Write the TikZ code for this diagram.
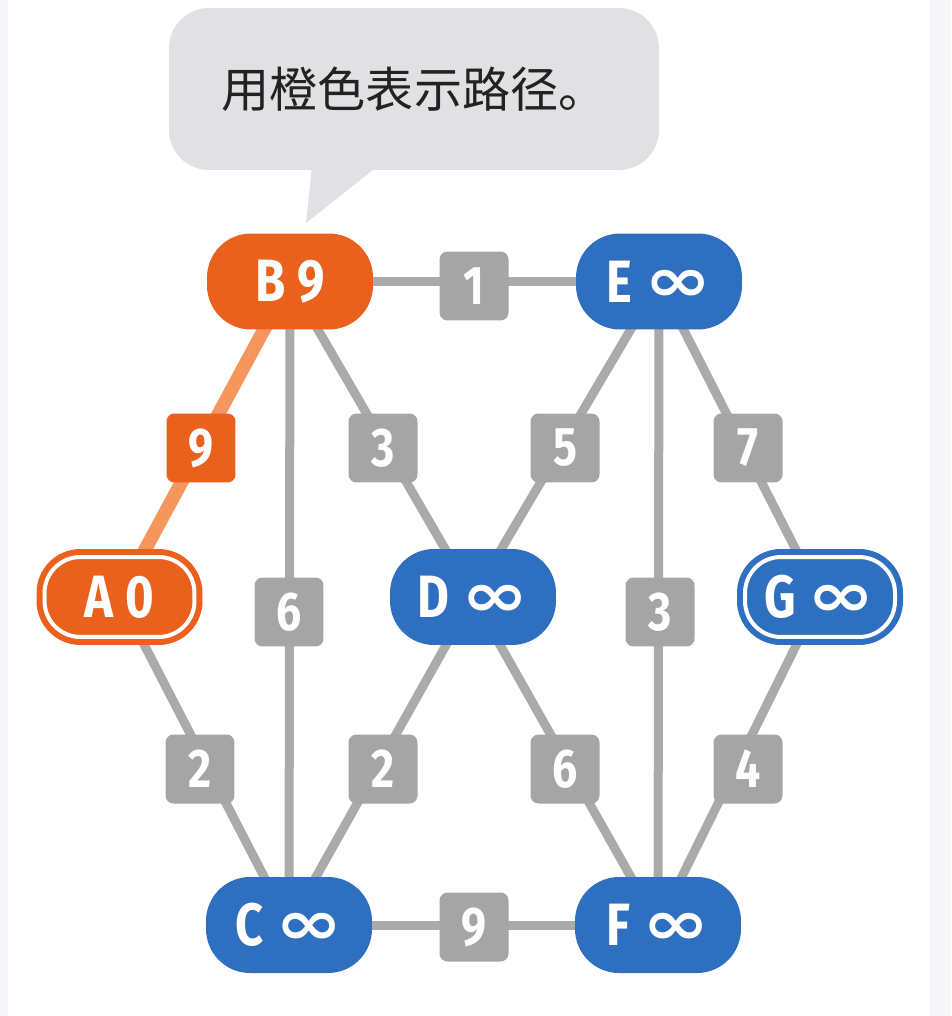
\documentclass[tikz,border=0pt]{standalone}
\usepackage{fontspec}
\newfontfamily\cjk{Noto Sans CJK SC}
\newfontfamily\nodefont{Fira Sans}[FakeStretch=0.82]
\newfontfamily\symfont{DejaVu Sans}
\newcommand{\inft}{{\symfont\fontsize{40}{40}\selectfont\raisebox{0.5pt}{\scalebox{1.15}[0.88]{∞}}}}
\usetikzlibrary{backgrounds}
\definecolor{orangeN}{RGB}{234,97,29}
\definecolor{blueN}{RGB}{47,111,191}
\definecolor{edgeG}{RGB}{170,170,170}
\definecolor{labG}{RGB}{165,165,165}
\definecolor{pathO}{RGB}{245,150,92}
\definecolor{bubbleG}{RGB}{225,225,228}
\definecolor{sideG}{RGB}{246,246,249}
\definecolor{txtD}{RGB}{34,34,34}
\begin{document}
\begin{tikzpicture}[x=0.02cm,y=-0.02cm,
  vtx/.style={rounded corners=0.88cm, minimum width=3.32cm, minimum height=1.92cm,
    inner sep=0pt, text=white, font=\nodefont\bfseries\fontsize{34}{38}\selectfont},
  vorange/.style={vtx, fill=orangeN},
  vblue/.style={vtx, fill=blueN},
  vsrc/.style={rounded corners=0.72cm, minimum width=3.0cm, minimum height=1.60cm,
    double=white, double distance=0.08cm, line width=0.12cm},
  wlab/.style={rounded corners=0.16cm, minimum size=1.38cm, inner sep=0pt,
    fill=labG, text=white, font=\nodefont\bfseries\fontsize{31}{34}\selectfont},
  olab/.style={wlab, fill=orangeN},
  gedge/.style={draw=edgeG, line width=0.18cm},
  pedge/.style={draw=pathO, line width=0.27cm},
  bubble/.style={fill=bubbleG, rounded corners=0.8cm, minimum width=9.8cm,
    minimum height=3.24cm, inner sep=0pt, text=txtD, font=\cjk\fontsize{27.4}{30}\selectfont},
]
\useasboundingbox (0,0) rectangle (951,1016);

% callout
\node[bubble] (call) at (414,89) {用橙色表示路径。};
\coordinate (tip) at (306,223);
\fill[bubbleG] (312,166) -- (tip) -- (378,166) -- cycle;

% vertices
\node[vorange, vsrc, draw=orangeN] (A) at (119.5,597) {A 0};
\node[vorange] (B) at (290,281.5) {B 9};
\node[vblue] (C) at (289,925) {C \inft};
\node[vblue] (D) at (473,597) {D \inft};
\node[vblue] (E) at (659,281.5) {E \inft};
\node[vblue] (F) at (658,925) {F \inft};
\node[vblue, vsrc, draw=blueN] (G) at (820,597) {G \inft};

% weights
\node[wlab] (lBE) at (474,286) {1};
\node[olab] (lAB) at (201,448) {9};
\node[wlab] (lBD) at (383,448) {3};
\node[wlab] (lED) at (565,448) {5};
\node[wlab] (lEG) at (748,448) {7};
\node[wlab] (lBC) at (289,612) {6};
\node[wlab] (lEF) at (660,612) {3};
\node[wlab] (lAC) at (200,769) {2};
\node[wlab] (lDC) at (383,769) {2};
\node[wlab] (lDF) at (565,769) {6};
\node[wlab] (lGF) at (748,769) {4};
\node[wlab] (lCF) at (474,927) {9};

\begin{scope}[on background layer]
  \fill[white] (0,0) rectangle (951,1016);
  \fill[sideG] (0,0) rectangle (8,1016);
  \fill[sideG] (930,0) rectangle (951,1016);
  \draw[pedge] (A.center) -- (B.center);
  \draw[gedge] (B.center) -- (E.center);
  \draw[gedge] (B.center) -- (D.center);
  \draw[gedge] (B.center) -- (C.center);
  \draw[gedge] (E.center) -- (D.center);
  \draw[gedge] (E.center) -- (G.center);
  \draw[gedge] (E.center) -- (F.center);
  \draw[gedge] (A.center) -- (C.center);
  \draw[gedge] (D.center) -- (C.center);
  \draw[gedge] (D.center) -- (F.center);
  \draw[gedge] (G.center) -- (F.center);
  \draw[gedge] (C.center) -- (F.center);
\end{scope}
\end{tikzpicture}
\end{document}
